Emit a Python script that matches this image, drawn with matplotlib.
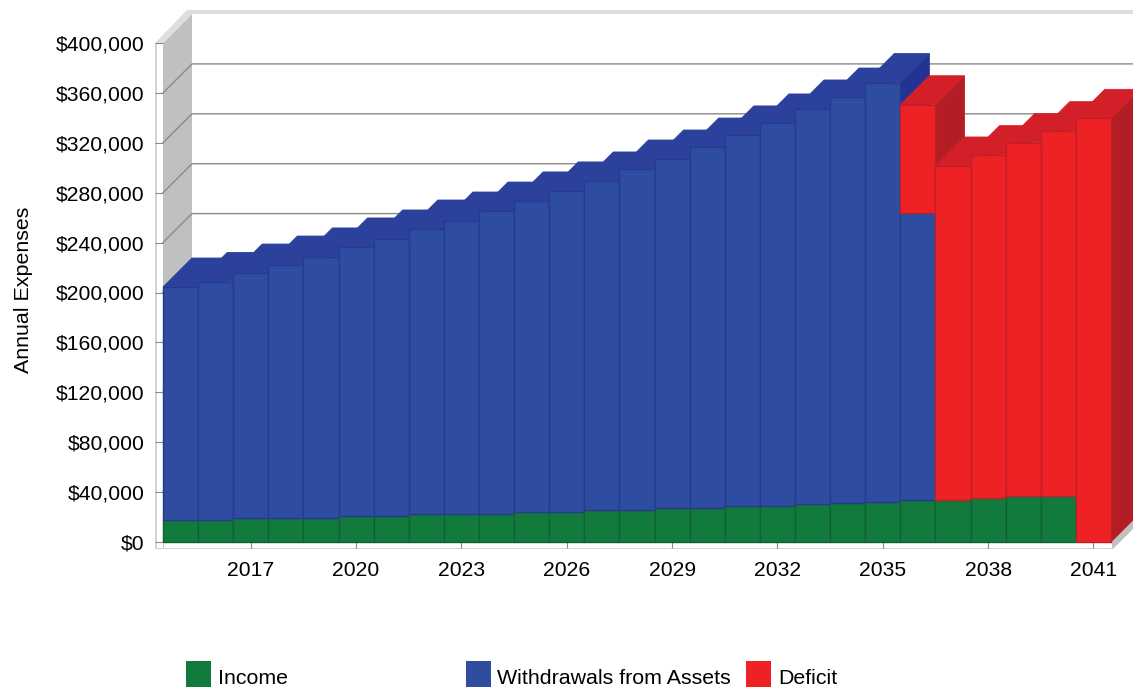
import matplotlib
matplotlib.use('Agg')
import matplotlib.pyplot as plt
from matplotlib.patches import Rectangle
from matplotlib.ticker import FuncFormatter

plt.rcParams['font.family'] = ['Liberation Sans', 'DejaVu Sans']

years = list(range(2015, 2042))
income = [17600, 17600, 19200, 19200, 19200, 20800, 20800, 22400, 22400, 22400,
          24000, 24000, 25700, 25700, 27300, 27300, 28900, 28900, 30500, 31000,
          32000, 33700, 33700, 35300, 36900, 36900, 0]
withdrawals = [186800, 191200, 196400, 202800, 209300, 215700, 222100, 228500,
               234900, 242900, 249400, 257400, 263700, 273300, 279700, 289300,
               297400, 307000, 316600, 325700, 336300, 230300,
               0, 0, 0, 0, 0]
deficit = [0, 0, 0, 0, 0, 0, 0, 0, 0, 0, 0, 0, 0, 0, 0, 0, 0, 0, 0, 0, 0,
           86500, 267700, 275200, 283200, 292800, 339600]
y_ticks = list(range(0, 400001, 40000))
x_tick_years = [2017, 2020, 2023, 2026, 2029, 2032, 2035, 2038, 2041]
labels = ['Income', 'Withdrawals from Assets', 'Deficit']

# front, top, side, edge
colors = [('#137a3e', '#11713a', '#0f6634', '#0f6133'),
          ('#2e4da0', '#2b419b', '#233394', '#263a90'),
          ('#ee2224', '#d31f27', '#b21e24', '#c01f28')]

W, H = 1133, 688
fig = plt.figure(figsize=(W / 100, H / 100), dpi=100)
ax = fig.add_axes([163 / W, (H - 542) / H, 948 / W, 499 / H])
ax.set_xlim(-0.5, 26.5)
ax.set_ylim(0, 400000)
ax.patch.set_visible(False)
for s in ax.spines.values():
    s.set_visible(False)

# pixel sizes in data units, for the fake 3D box
px = 27 / 948
py = 400000 / 499
dx = 29 * px
dy = 29 * py
x0, x1 = -0.5, 26.5
top = 400000


def face(xs, ys, color, z, lw=0):
    ax.fill(xs, ys, color=color, lw=lw, clip_on=False, zorder=z)


# walls and lips
face([x0, x0, x0 + dx, x0 + dx], [0, top, top + dy, dy], '#c0c0c0', 0.3)
face([x0 - 8 * px, x0 - 8 * px, x0, x0], [-7 * py, top, top, -7 * py], '#d4d4d4', 0.4)
face([x0 - 6.5 * px, x0 - 6.5 * px, x0, x0], [-5.5 * py, top, top, -5.5 * py], 'white', 0.5)
face([x0 - 8 * px, x0 + dx - 5 * px, x1 + dx, x1 + dx, x0 + dx, x0],
     [top, top + dy + 4 * py, top + dy + 4 * py, top + dy, top + dy, top], '#dedede', 0.5)
face([x0 - 8 * px, x1 + 2 * px, x1 + 2 * px, x0 - 8 * px],
     [-7 * py, -7 * py, 0, 0], '#d4d4d4', 0.4)
face([x0 - 6.5 * px, x1 + 1 * px, x1 + 1 * px, x0 - 6.5 * px],
     [-5.5 * py, -5.5 * py, 0, 0], 'white', 0.5)
face([x1 + 2 * px, x1 + 2 * px + dx, x1 + dx, x1],
     [-7 * py, -7 * py + dy, dy, 0], '#c0c0c0', 0.5)

# gridlines on the side and back walls
for v in y_ticks[1:-1]:
    ax.plot([x0, x0 + dx, x1 + dx], [v, v + dy, v + dy], color='#8a8a8a', lw=1,
            clip_on=False, zorder=0.6)

# bars, left to right so each one hides the side of the one before
z = 2
for i in range(len(years)):
    bottom = 0
    for vals, (front, top_c, side_c, edge) in zip([income, withdrawals, deficit], colors):
        v = vals[i]
        if v == 0:
            continue
        l, r = i - 0.5, i + 0.5
        face([r, r + dx, r + dx, r], [bottom, bottom + dy, bottom + v + dy, bottom + v], side_c, z, 0.6)
        face([l, r, r + dx, l + dx], [bottom + v, bottom + v, bottom + v + dy, bottom + v + dy], top_c, z, 0.6)
        ax.bar(i, v, width=1, bottom=bottom, color=front, edgecolor=edge, linewidth=1.0,
               clip_on=False, zorder=z + 0.1)
        bottom += v
    z += 1

ax.set_yticks(y_ticks)
ax.yaxis.set_major_formatter(FuncFormatter(lambda v, p: '${:,.0f}'.format(v)))
ax.set_xticks([years.index(y) for y in x_tick_years])
ax.set_xticklabels([str(y) for y in x_tick_years])
ax.set_xticks([x0], minor=True)
ax.tick_params(axis='y', length=5.8, width=0.8, color='#8a8a8a', pad=7.3, labelsize=15.2, labelcolor='black')
ax.tick_params(axis='x', length=4.3, width=0.8, color='#8a8a8a', pad=9.5, labelsize=15.2, labelcolor='black')
ax.tick_params(axis='x', which='minor', length=4.3, width=0.8, color='#c8c8c8')
ax.set_ylabel('Annual Expenses', fontsize=15.4, color='black')
ax.yaxis.set_label_coords(-130 / 948, 0.505)

# legend laid out by hand, the columns are evenly spaced
for n, label in enumerate(labels):
    left = 186 + 280 * n
    fig.add_artist(Rectangle((left / W, (H - 687) / H), 25 / W, 26 / H, transform=fig.transFigure,
                             facecolor=colors[n][0], edgecolor='none'))
    fig.text((left + 32 - (1 if n == 1 else 0)) / W, (H - 684) / H, label, fontsize=15.4,
             color='black', va='baseline', ha='left')

fig.savefig('out.png', dpi=100)
